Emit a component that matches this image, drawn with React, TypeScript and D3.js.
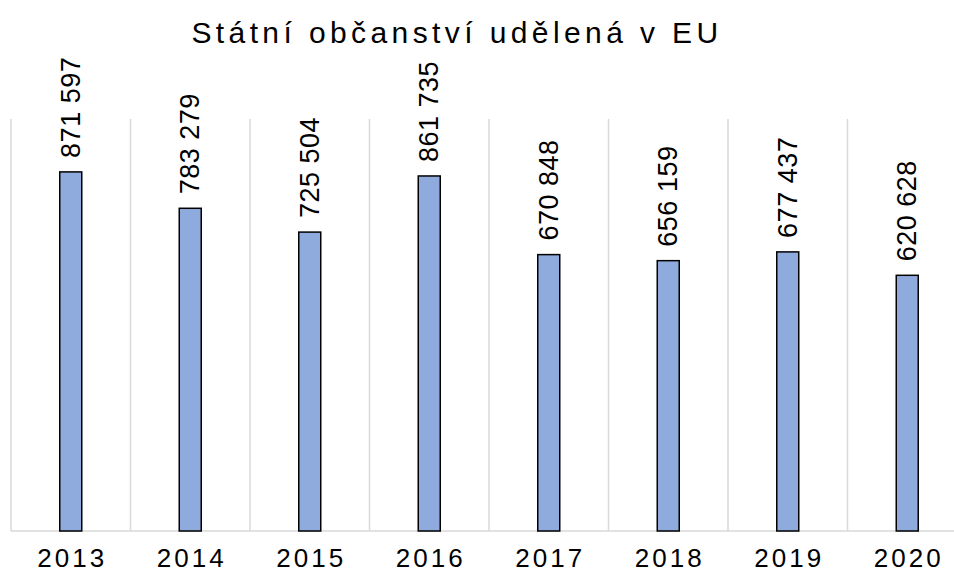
import React from "react";
import * as d3 from "d3";

const years = ["2013", "2014", "2015", "2016", "2017", "2018", "2019", "2020"];
const values = [871597, 783279, 725504, 861735, 670848, 656159, 677437, 620628];
const title = "Státní občanství udělená v EU";

const W = 954;
const H = 574;
const left = 11;
const right = 967;
const top = 119;
const bottom = 531;

function fmt(v: number) {
  return d3.format(",")(v).replace(/,/g, " ");
}

export default function App() {
  const x = d3.scaleBand<string>().domain(years).range([left, right]).padding(0);
  const y = d3.scaleLinear().domain([0, 1000000]).range([bottom, top]);
  const bw = x.bandwidth();
  const barW = bw * 0.184;
  const font = "'Liberation Sans', Arial, sans-serif";
  return (
    <svg
      width={W}
      height={H}
      style={{ position: "absolute", left: 0, top: 0, background: "#fff" }}
    >
      <rect x={0} y={0} width={W} height={H} fill="#fff" />
      {years.map((yr) => (
        <line
          key={"g" + yr}
          x1={x(yr)!}
          x2={x(yr)!}
          y1={top}
          y2={bottom}
          stroke="#d9d9d9"
          strokeWidth={1.5}
        />
      ))}
      <line x1={left} x2={right} y1={bottom} y2={bottom} stroke="#d9d9d9" strokeWidth={1.5} />
      {years.map((yr, i) => {
        const cx = x(yr)! + bw / 2;
        const yt = y(values[i]);
        return (
          <g key={yr}>
            <rect
              x={cx - barW / 2}
              y={yt}
              width={barW}
              height={bottom - yt}
              fill="#8faadc"
              stroke="#000"
              strokeWidth={1.5}
            />
            <text
              transform={`translate(${cx},${yt - 14}) rotate(-90)`}
              dominantBaseline="central"
              fontFamily={font}
              fontSize={27}
              letterSpacing={0.5}
              fill="#000"
            >
              {fmt(values[i])}
            </text>
            <text
              x={cx + 1.5}
              y={567}
              textAnchor="middle"
              fontFamily={font}
              fontSize={26}
              letterSpacing={3}
              fill="#000"
            >
              {yr}
            </text>
          </g>
        );
      })}
      <text
        x={457}
        y={43}
        textAnchor="middle"
        fontFamily={font}
        fontSize={30}
        letterSpacing={4.4}
        fill="#000"
      >
        {title}
      </text>
    </svg>
  );
}
